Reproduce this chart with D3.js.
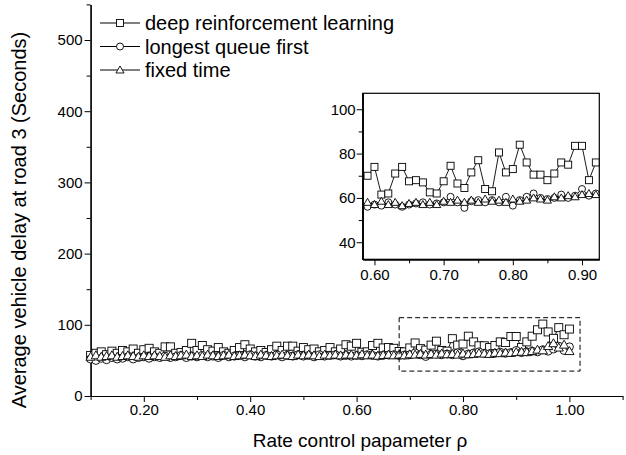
<!DOCTYPE html>
<html><head><meta charset="utf-8">
<script src="https://cdn.jsdelivr.net/npm/d3@7"></script>
<style>body{margin:0;background:#fff}svg{display:block}text{font-family:"Liberation Sans",Arial,sans-serif;fill:#000}</style>
</head><body><svg id="c" width="626" height="455"></svg>
<script>
const rho = [0.10,0.11,0.12,0.13,0.14,0.15,0.16,0.17,0.18,0.19,0.20,0.21,0.22,0.23,0.24,0.25,0.26,0.27,0.28,0.29,
0.30,0.31,0.32,0.33,0.34,0.35,0.36,0.37,0.38,0.39,0.40,0.41,0.42,0.43,0.44,0.45,0.46,0.47,0.48,0.49,
0.50,0.51,0.52,0.53,0.54,0.55,0.56,0.57,0.58,0.59,0.60,0.61,0.62,0.63,0.64,0.65,0.66,0.67,0.68,0.69,
0.70,0.71,0.72,0.73,0.74,0.75,0.76,0.77,0.78,0.79,0.80,0.81,0.82,0.83,0.84,0.85,0.86,0.87,0.88,0.89,
0.90,0.91,0.92,0.93,0.94,0.95,0.96,0.97,0.98,0.99,1.00];
const drl = [57,60,62,58,63,60,64,62,66,60,65,67,62,60,69,69,60,61,64,74,
64,71,65,63,68,62,60,64,68,72,66,62,64,61,65,70,64,70,70,63,
68,65,66,62,64,68,62,66,72,70,74,61.5,62,71,74,67.5,68,67,62.5,62,
67.5,74.5,66.5,64.5,71.5,77,64,63,80.5,71.5,73,84,76,70.5,70.5,68,71,76,75,83.5,
83.5,68,76,84,93,101,90,81,96,86,94];
const lqf = [52,50,53,51,54,52,53,55,52,54,55,53,55,54,56,54,55,57,54,56,
55,57,55,56,54,57,55,56,57,55,58,56,55,57,56,58,55,57,56,58,
56,57,55,58,56,57,58,56,57,56,57,56.5,58,57,56,57,57.5,58,57,57.5,
58,60.5,58,55.5,58.5,59,58,59,58,60.5,56.5,59,60.5,62,60,59.5,60,61.5,60,61,
64,61,62,63,62,65,63,66,70,64,69];
const fixedTime = [55,57,55,56,57,55,56,57,56,55,57,56,57,56,55,57,56,57,58,56,
57,56,58,57,56,57,58,56,57,58,57,56,58,57,56,57,58,57,56,58,
57,58,57,56,58,57,58,57,58,58,57,58.5,57,58,56.5,57.5,58,57,58,57,
58.5,58,59,58,59,58,59.5,58.5,59,58,59.5,58.5,59,60,59.5,59,60.5,60,61,60.5,
61.5,62,61.5,63,65,64,70,74,68,72,63];
const seriesNames = ["deep reinforcement learning","longest queue first","fixed time"];
const xTicksMain = [0.20,0.40,0.60,0.80,1.00];
const xMinorMain = [0.10,0.30,0.50,0.70,0.90,1.10];
const yTicksMain = [0,100,200,300,400,500];
const yMinorMain = [50,150,250,350,450,550];
const xTicksInset = [0.60,0.70,0.80,0.90];
const xMinorInset = [0.65,0.75,0.85];
const yTicksInset = [40,60,80,100];
const yMinorInset = [50,70,90];
const zoomBoxX = [0.68,1.02];
const zoomBoxY = [35,110];

const svg = d3.select("#c");
const x = d3.scaleLinear().domain([0.1,1.1]).range([90.6,622.6]);
const y = d3.scaleLinear().domain([0,550]).range([396,4.4]);
const series = [drl,lqf,fixedTime];
const shapes = ["square","circle","triangle"];

function marker(g, shape, cx, cy, s){
  if(shape==="square") g.append("rect").attr("x",cx-s/2).attr("y",cy-s/2).attr("width",s).attr("height",s);
  else if(shape==="circle") g.append("circle").attr("cx",cx).attr("cy",cy).attr("r",s/2);
  else { const h=s*0.95; g.append("path").attr("d",`M${cx},${cy-h*0.6}L${cx+s*0.58},${cy+h*0.45}L${cx-s*0.58},${cy+h*0.45}Z`); }
}
function drawSeries(g, xs, ys, size, clip){
  series.forEach((vals,k)=>{
    const pts = rho.map((r,i)=>[r,vals[i]]).filter(p=>p[0]>=xs.domain()[0]-1e-9 && p[0]<=xs.domain()[1]+1e-9);
    const gg = g.append("g").attr("clip-path",clip||null);
    gg.append("path").datum(pts).attr("fill","none").attr("stroke","#000").attr("stroke-width",0.9)
      .attr("d",d3.line().x(p=>xs(p[0])).y(p=>ys(p[1])));
    const mg = gg.append("g").attr("fill","#fff").attr("stroke","#000").attr("stroke-width",0.9);
    pts.forEach(p=>marker(mg,shapes[k],xs(p[0]),ys(p[1]),size));
  });
}

// main axes
const fmt = d3.format(".2f");
const gx = svg.append("g").attr("transform",`translate(0,${y(0)})`)
  .call(d3.axisBottom(x).tickValues(xTicksMain).tickFormat(fmt).tickSize(6).tickSizeOuter(0));
svg.append("g").attr("transform",`translate(0,${y(0)})`)
  .call(d3.axisBottom(x).tickValues(xMinorMain).tickFormat("").tickSize(4).tickSizeOuter(0));
const gy = svg.append("g").attr("transform",`translate(${x(0.1)},0)`)
  .call(d3.axisLeft(y).tickValues(yTicksMain).tickSize(6).tickSizeOuter(0));
svg.append("g").attr("transform",`translate(${x(0.1)},0)`)
  .call(d3.axisLeft(y).tickValues(yMinorMain).tickFormat("").tickSize(4).tickSizeOuter(0));
svg.selectAll(".domain").attr("stroke","#000").attr("stroke-width",1.2);
gx.selectAll("text").attr("font-size",15).attr("y",8).attr("dy","0.71em");
gy.selectAll("text").attr("font-size",15).attr("x",-8);
svg.selectAll(".tick line").attr("stroke","#000");

svg.append("text").attr("x",360).attr("y",447).attr("text-anchor","middle").attr("font-size",19)
  .text("Rate control papameter  ρ");
svg.append("text").attr("transform",`translate(26,220) rotate(-90)`).attr("text-anchor","middle").attr("font-size",20)
  .text("Average vehicle delay at road 3 (Seconds)");

// main data
drawSeries(svg.append("g"), x, y, 8);

// dashed zoom box
svg.append("rect").attr("x",x(zoomBoxX[0])).attr("y",y(zoomBoxY[1]))
  .attr("width",x(zoomBoxX[1])-x(zoomBoxX[0])).attr("height",y(zoomBoxY[0])-y(zoomBoxY[1]))
  .attr("fill","none").attr("stroke","#000").attr("stroke-width",1).attr("stroke-dasharray","5,3");

// legend
const leg = svg.append("g");
seriesNames.forEach((n,k)=>{
  const ly = 23 + k*23.5;
  leg.append("line").attr("x1",100).attr("x2",140).attr("y1",ly).attr("y2",ly).attr("stroke","#000").attr("stroke-width",1);
  const mg = leg.append("g").attr("fill","#fff").attr("stroke","#000").attr("stroke-width",0.9);
  marker(mg,shapes[k],120,ly,7);
  leg.append("text").attr("x",145).attr("y",ly).attr("dy","0.36em").attr("font-size",20).text(n);
});

// inset
const ix = d3.scaleLinear().domain([0.583,0.925]).range([362.7,599.3]);
const iy = d3.scaleLinear().domain([32.3,107.2]).range([259.3,93.3]);
svg.append("defs").append("clipPath").attr("id","ic").append("rect")
  .attr("x",362.7).attr("y",93.3).attr("width",599.3-362.7).attr("height",259.3-93.3);
svg.append("rect").attr("x",362.7).attr("y",93.3).attr("width",599.3-362.7).attr("height",259.3-93.3).attr("fill","#fff");
drawSeries(svg.append("g"), ix, iy, 7, "url(#ic)");
svg.append("rect").attr("x",362.7).attr("y",93.3).attr("width",599.3-362.7).attr("height",259.3-93.3)
  .attr("fill","none").attr("stroke","#000").attr("stroke-width",1.2);
const igx = svg.append("g").attr("transform",`translate(0,259.3)`)
  .call(d3.axisBottom(ix).tickValues(xTicksInset).tickFormat(fmt).tickSize(6).tickSizeOuter(0));
svg.append("g").attr("transform",`translate(0,259.3)`)
  .call(d3.axisBottom(ix).tickValues(xMinorInset).tickFormat("").tickSize(4).tickSizeOuter(0));
const igy = svg.append("g").attr("transform",`translate(362.7,0)`)
  .call(d3.axisLeft(iy).tickValues(yTicksInset).tickSize(6).tickSizeOuter(0));
svg.append("g").attr("transform",`translate(362.7,0)`)
  .call(d3.axisLeft(iy).tickValues(yMinorInset).tickFormat("").tickSize(4).tickSizeOuter(0));
svg.selectAll(".domain").attr("stroke","#000").attr("stroke-width",1.2);
svg.selectAll(".tick line").attr("stroke","#000");
igx.selectAll("text").attr("font-size",15).attr("y",10).attr("dy","0.71em");
igy.selectAll("text").attr("font-size",15).attr("x",-7);
</script></body></html>
